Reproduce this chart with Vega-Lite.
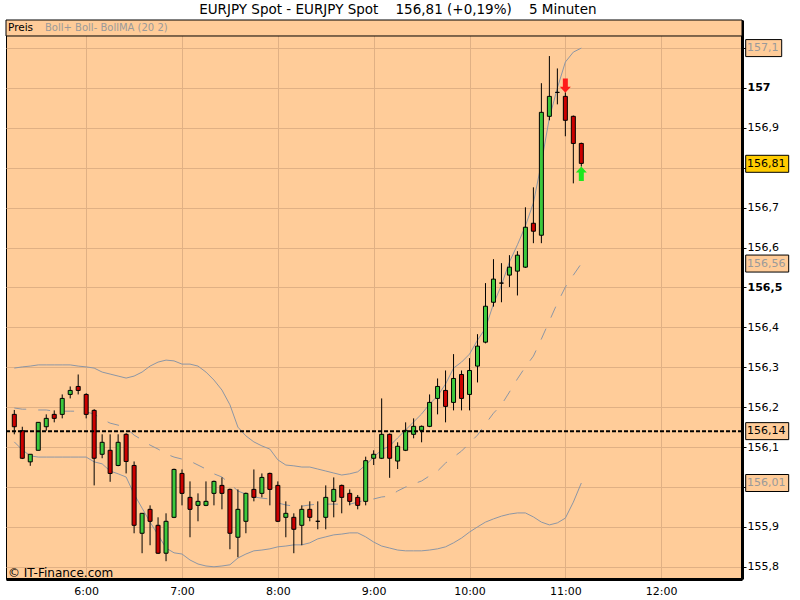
{
  "$schema": "https://vega.github.io/schema/vega-lite/v6.json",
  "width": 736,
  "height": 559,
  "autosize": {"type": "none"},
  "padding": {"left": 6, "top": 20, "right": 58, "bottom": 21},
  "background": "white",
  "title": {
    "text": "EURJPY Spot - EURJPY Spot \u00a0\u00a0\u00a0156,81 (+0,19%) \u00a0\u00a0\u00a05 Minuten",
    "font": "DejaVu Sans",
    "fontSize": 13.5,
    "fontWeight": "normal",
    "color": "black",
    "anchor": "middle",
    "frame": "bounds",
    "offset": 3
  },
  "config": {
    "view": {"fill": "#FFCC99", "stroke": "black", "strokeWidth": 1},
    "font": "DejaVu Sans",
    "axis": {"labelFont": "DejaVu Sans", "labelFontSize": 11, "labelColor": "black", "gridColor": "#E0B084", "gridOpacity": 1, "gridWidth": 1, "title": null}
  },
  "layer": [
    {
      "data": {
        "values": [
          {"t":"05:15","o":156.182,"h":156.193,"l":156.132,"c":156.151,"up":156.298,"mid":156.198,"lo":156.113},
          {"t":"05:20","o":156.141,"h":156.151,"l":156.070,"c":156.072,"up":156.301,"mid":156.195,"lo":156.093},
          {"t":"05:25","o":156.063,"h":156.082,"l":156.053,"c":156.082,"up":156.303,"mid":156.195,"lo":156.078},
          {"t":"05:30","o":156.092,"h":156.162,"l":156.092,"c":156.162,"up":156.306,"mid":156.193,"lo":156.075},
          {"t":"05:35","o":156.151,"h":156.182,"l":156.141,"c":156.172,"up":156.306,"mid":156.193,"lo":156.075},
          {"t":"05:40","o":156.182,"h":156.192,"l":156.162,"c":156.172,"up":156.306,"mid":156.190,"lo":156.075},
          {"t":"05:45","o":156.182,"h":156.232,"l":156.172,"c":156.222,"up":156.306,"mid":156.190,"lo":156.075},
          {"t":"05:50","o":156.232,"h":156.252,"l":156.222,"c":156.242,"up":156.306,"mid":156.190,"lo":156.075},
          {"t":"05:55","o":156.252,"h":156.282,"l":156.232,"c":156.242,"up":156.303,"mid":156.190,"lo":156.075},
          {"t":"06:00","o":156.232,"h":156.235,"l":156.172,"c":156.182,"up":156.301,"mid":156.188,"lo":156.075},
          {"t":"06:05","o":156.192,"h":156.195,"l":156.004,"c":156.072,"up":156.298,"mid":156.183,"lo":156.063},
          {"t":"06:10","o":156.082,"h":156.132,"l":156.072,"c":156.112,"up":156.288,"mid":156.170,"lo":156.058},
          {"t":"06:15","o":156.092,"h":156.132,"l":156.013,"c":156.034,"up":156.283,"mid":156.160,"lo":156.040},
          {"t":"06:20","o":156.054,"h":156.132,"l":156.052,"c":156.112,"up":156.278,"mid":156.155,"lo":156.033},
          {"t":"06:25","o":156.132,"h":156.135,"l":156.034,"c":156.064,"up":156.273,"mid":156.148,"lo":156.025},
          {"t":"06:30","o":156.054,"h":156.064,"l":155.884,"c":155.904,"up":156.278,"mid":156.130,"lo":155.982},
          {"t":"06:35","o":155.884,"h":155.934,"l":155.834,"c":155.934,"up":156.288,"mid":156.118,"lo":155.947},
          {"t":"06:40","o":155.944,"h":155.954,"l":155.854,"c":155.914,"up":156.303,"mid":156.105,"lo":155.912},
          {"t":"06:45","o":155.904,"h":155.924,"l":155.832,"c":155.834,"up":156.313,"mid":156.095,"lo":155.880},
          {"t":"06:50","o":155.834,"h":155.934,"l":155.814,"c":155.914,"up":156.318,"mid":156.083,"lo":155.847},
          {"t":"06:55","o":155.924,"h":156.046,"l":155.922,"c":156.044,"up":156.316,"mid":156.075,"lo":155.835},
          {"t":"07:00","o":156.034,"h":156.044,"l":155.954,"c":155.984,"up":156.308,"mid":156.070,"lo":155.832},
          {"t":"07:05","o":155.974,"h":156.014,"l":155.874,"c":155.944,"up":156.308,"mid":156.065,"lo":155.817},
          {"t":"07:10","o":155.954,"h":155.984,"l":155.914,"c":155.964,"up":156.303,"mid":156.055,"lo":155.807},
          {"t":"07:15","o":155.954,"h":156.014,"l":155.952,"c":155.964,"up":156.288,"mid":156.045,"lo":155.802},
          {"t":"07:20","o":155.984,"h":156.016,"l":155.954,"c":156.014,"up":156.268,"mid":156.033,"lo":155.800},
          {"t":"07:25","o":156.004,"h":156.024,"l":155.944,"c":155.984,"up":156.243,"mid":156.025,"lo":155.802},
          {"t":"07:30","o":155.994,"h":155.996,"l":155.844,"c":155.884,"up":156.206,"mid":156.008,"lo":155.805},
          {"t":"07:35","o":155.874,"h":155.994,"l":155.824,"c":155.944,"up":156.150,"mid":155.990,"lo":155.822},
          {"t":"07:40","o":155.914,"h":155.986,"l":155.884,"c":155.984,"up":156.128,"mid":155.982,"lo":155.832},
          {"t":"07:45","o":155.994,"h":156.044,"l":155.964,"c":155.974,"up":156.113,"mid":155.975,"lo":155.840},
          {"t":"07:50","o":155.984,"h":156.034,"l":155.974,"c":156.024,"up":156.103,"mid":155.972,"lo":155.842},
          {"t":"07:55","o":156.034,"h":156.036,"l":155.954,"c":155.994,"up":156.095,"mid":155.970,"lo":155.845},
          {"t":"08:00","o":156.004,"h":156.014,"l":155.912,"c":155.914,"up":156.068,"mid":155.960,"lo":155.850},
          {"t":"08:05","o":155.924,"h":155.964,"l":155.874,"c":155.934,"up":156.055,"mid":155.955,"lo":155.852},
          {"t":"08:10","o":155.924,"h":155.934,"l":155.834,"c":155.894,"up":156.053,"mid":155.952,"lo":155.855},
          {"t":"08:15","o":155.904,"h":155.954,"l":155.854,"c":155.944,"up":156.050,"mid":155.952,"lo":155.855},
          {"t":"08:20","o":155.944,"h":155.964,"l":155.914,"c":155.924,"up":156.050,"mid":155.955,"lo":155.860},
          {"t":"08:25","o":155.914,"h":155.964,"l":155.894,"c":155.914,"up":156.045,"mid":155.957,"lo":155.870},
          {"t":"08:30","o":155.924,"h":156.004,"l":155.894,"c":155.974,"up":156.040,"mid":155.957,"lo":155.875},
          {"t":"08:35","o":155.964,"h":156.024,"l":155.924,"c":155.994,"up":156.035,"mid":155.957,"lo":155.880},
          {"t":"08:40","o":156.004,"h":156.006,"l":155.934,"c":155.974,"up":156.030,"mid":155.957,"lo":155.882},
          {"t":"08:45","o":155.984,"h":155.994,"l":155.954,"c":155.964,"up":156.033,"mid":155.957,"lo":155.885},
          {"t":"08:50","o":155.974,"h":155.980,"l":155.944,"c":155.954,"up":156.038,"mid":155.962,"lo":155.885},
          {"t":"08:55","o":155.964,"h":156.076,"l":155.954,"c":156.066,"up":156.055,"mid":155.967,"lo":155.875},
          {"t":"09:00","o":156.072,"h":156.092,"l":156.055,"c":156.082,"up":156.075,"mid":155.970,"lo":155.862},
          {"t":"09:05","o":156.072,"h":156.222,"l":156.070,"c":156.132,"up":156.093,"mid":155.975,"lo":155.852},
          {"t":"09:10","o":156.132,"h":156.134,"l":156.023,"c":156.072,"up":156.103,"mid":155.977,"lo":155.847},
          {"t":"09:15","o":156.065,"h":156.112,"l":156.045,"c":156.102,"up":156.123,"mid":155.990,"lo":155.842},
          {"t":"09:20","o":156.092,"h":156.162,"l":156.090,"c":156.142,"up":156.143,"mid":156.000,"lo":155.840},
          {"t":"09:25","o":156.132,"h":156.172,"l":156.122,"c":156.152,"up":156.163,"mid":156.008,"lo":155.840},
          {"t":"09:30","o":156.142,"h":156.154,"l":156.112,"c":156.152,"up":156.183,"mid":156.015,"lo":155.840},
          {"t":"09:35","o":156.152,"h":156.232,"l":156.150,"c":156.212,"up":156.208,"mid":156.028,"lo":155.842},
          {"t":"09:40","o":156.222,"h":156.272,"l":156.182,"c":156.252,"up":156.228,"mid":156.040,"lo":155.845},
          {"t":"09:45","o":156.242,"h":156.292,"l":156.162,"c":156.202,"up":156.258,"mid":156.060,"lo":155.850},
          {"t":"09:50","o":156.212,"h":156.333,"l":156.192,"c":156.272,"up":156.298,"mid":156.075,"lo":155.860},
          {"t":"09:55","o":156.282,"h":156.292,"l":156.192,"c":156.222,"up":156.313,"mid":156.090,"lo":155.872},
          {"t":"10:00","o":156.232,"h":156.323,"l":156.192,"c":156.292,"up":156.333,"mid":156.110,"lo":155.887},
          {"t":"10:05","o":156.303,"h":156.383,"l":156.262,"c":156.353,"up":156.368,"mid":156.130,"lo":155.900},
          {"t":"10:10","o":156.363,"h":156.511,"l":156.360,"c":156.453,"up":156.398,"mid":156.158,"lo":155.912},
          {"t":"10:15","o":156.463,"h":156.571,"l":156.452,"c":156.521,"up":156.459,"mid":156.185,"lo":155.920},
          {"t":"10:20","o":156.511,"h":156.561,"l":156.463,"c":156.511,"up":156.506,"mid":156.206,"lo":155.927},
          {"t":"10:25","o":156.531,"h":156.581,"l":156.501,"c":156.551,"up":156.564,"mid":156.238,"lo":155.932},
          {"t":"10:30","o":156.541,"h":156.591,"l":156.480,"c":156.581,"up":156.607,"mid":156.271,"lo":155.935},
          {"t":"10:35","o":156.551,"h":156.701,"l":156.549,"c":156.651,"up":156.654,"mid":156.301,"lo":155.935},
          {"t":"10:40","o":156.661,"h":156.751,"l":156.611,"c":156.641,"up":156.712,"mid":156.328,"lo":155.925},
          {"t":"10:45","o":156.631,"h":157.012,"l":156.611,"c":156.939,"up":156.812,"mid":156.371,"lo":155.912},
          {"t":"10:50","o":156.929,"h":157.080,"l":156.919,"c":156.979,"up":156.925,"mid":156.416,"lo":155.905},
          {"t":"10:55","o":156.989,"h":157.049,"l":156.959,"c":156.989,"up":157.000,"mid":156.461,"lo":155.910},
          {"t":"11:00","o":156.979,"h":156.989,"l":156.879,"c":156.919,"up":157.065,"mid":156.501,"lo":155.922},
          {"t":"11:05","o":156.929,"h":156.931,"l":156.761,"c":156.861,"up":157.090,"mid":156.531,"lo":155.962},
          {"t":"11:10","o":156.861,"h":156.863,"l":156.803,"c":156.811,"up":157.100,"mid":156.560,"lo":156.010}
        ],
        "format": {"parse": {"t": "date:'%H:%M'"}}
      },
      "encoding": {
        "x": {
          "field": "t",
          "type": "temporal",
          "scale": {"domain": [{"year":1900,"month":1,"date":1,"hours":5,"minutes":9,"seconds":48},{"year":1900,"month":1,"date":1,"hours":12,"minutes":50,"seconds":36}], "nice": false, "padding": 0},
          "axis": {
            "orient": "bottom",
            "values": [{"year":1900,"month":1,"date":1,"hours":6},{"year":1900,"month":1,"date":1,"hours":7},{"year":1900,"month":1,"date":1,"hours":8},{"year":1900,"month":1,"date":1,"hours":9},{"year":1900,"month":1,"date":1,"hours":10},{"year":1900,"month":1,"date":1,"hours":11},{"year":1900,"month":1,"date":1,"hours":12}],
            "format": "%-H:%M",
            "formatType": "time",
            "grid": true,
            "ticks": false,
            "domain": true,
            "domainColor": "black",
            "domainWidth": 3,
            "labelPadding": 6,
            "labelOverlap": false,
            "labelFlush": false
          }
        }
      },
      "layer": [
        {
          "mark": {"type": "line", "color": "#8C96A5", "strokeWidth": 1},
          "encoding": {"y": {"field": "up", "type": "quantitative", "scale": {"domain": [155.7694, 157.1704], "nice": false, "zero": false, "padding": 0},
            "axis": {
              "orient": "right",
              "values": [155.8, 155.9, 156, 156.1, 156.2, 156.3, 156.4, 156.5, 156.6, 156.7, 156.8, 156.9, 157, 157.1],
              "labelExpr": "datum.value > 157.05 || (datum.value > 156.75 && datum.value < 156.85) ? '' : replace(format(datum.value, '.1~f'), '.', ',')",
              "labelFontWeight": {"condition": {"test": "abs(datum.value*2 - round(datum.value*2)) < 0.001", "value": "bold"}, "value": "normal"},
              "grid": true,
              "ticks": true,
              "tickSize": 4,
              "tickColor": "black",
              "domain": true,
              "domainColor": "black",
              "domainWidth": 3,
              "labelPadding": 1,
              "labelOverlap": false,
              "labelFlush": false
            }}}
        },
        {
          "mark": {"type": "line", "color": "#8C96A5", "strokeWidth": 1},
          "encoding": {"y": {"field": "lo", "type": "quantitative", "scale": {"domain": [155.7694, 157.1704], "nice": false, "zero": false}}}
        },
        {
          "mark": {"type": "line", "color": "#8C96A5", "strokeWidth": 1, "strokeDash": [12, 12]},
          "encoding": {"y": {"field": "mid", "type": "quantitative", "scale": {"domain": [155.7694, 157.1704], "nice": false, "zero": false}}}
        },
        {
          "mark": {"type": "rule", "color": "black", "strokeWidth": 1},
          "encoding": {
            "y": {"field": "l", "type": "quantitative", "scale": {"domain": [155.7694, 157.1704], "nice": false, "zero": false}},
            "y2": {"field": "h"}
          }
        },
        {
          "mark": {"type": "bar", "width": 4, "stroke": "black", "strokeWidth": 1},
          "encoding": {
            "y": {"field": "o", "type": "quantitative", "scale": {"domain": [155.7694, 157.1704], "nice": false, "zero": false}},
            "y2": {"field": "c"},
            "fill": {"condition": {"test": "datum.c >= datum.o", "value": "#3CC83C"}, "value": "#CC0000"}
          }
        }
      ]
    },
    {
      "data": {"values": [{"level": 156.14}]},
      "mark": {"type": "rule", "color": "black", "strokeWidth": 2, "strokeDash": [4, 2]},
      "encoding": {"y": {"field": "level", "type": "quantitative", "scale": {"domain": [155.7694, 157.1704], "nice": false, "zero": false}}}
    },
    {
      "data": {"values": [{"top": 157.1704, "bottom": 157.1303}]},
      "mark": {"type": "rect", "fill": "#FFCC99", "stroke": "black", "strokeWidth": 1},
      "encoding": {
        "y": {"field": "bottom", "type": "quantitative", "scale": {"domain": [155.7694, 157.1704], "nice": false, "zero": false}},
        "y2": {"field": "top"}
      }
    },
    {
      "data": {"values": [{"label": "Preis", "p": 157.1504}]},
      "mark": {"type": "text", "align": "left", "baseline": "middle", "dx": 2, "fontSize": 10.5, "color": "black"},
      "encoding": {
        "x": {"datum": {"year":1900,"month":1,"date":1,"hours":5,"minutes":9,"seconds":48}, "type": "temporal"},
        "y": {"field": "p", "type": "quantitative", "scale": {"domain": [155.7694, 157.1704], "nice": false, "zero": false}},
        "text": {"field": "label"}
      }
    },
    {
      "data": {"values": [{"label": "Boll+ Boll- BollMA (20 2)", "p": 157.1504}]},
      "mark": {"type": "text", "align": "left", "baseline": "middle", "dx": 39, "fontSize": 10, "color": "#9A9A9A"},
      "encoding": {
        "x": {"datum": {"year":1900,"month":1,"date":1,"hours":5,"minutes":9,"seconds":48}, "type": "temporal"},
        "y": {"field": "p", "type": "quantitative", "scale": {"domain": [155.7694, 157.1704], "nice": false, "zero": false}},
        "text": {"field": "label"}
      }
    },
    {
      "data": {"values": [{"label": "\u00a9 IT-Finance.com", "p": 155.7845}]},
      "mark": {"type": "text", "align": "left", "baseline": "middle", "dx": 2, "fontSize": 12, "color": "black"},
      "encoding": {
        "x": {"datum": {"year":1900,"month":1,"date":1,"hours":5,"minutes":9,"seconds":48}, "type": "temporal"},
        "y": {"field": "p", "type": "quantitative", "scale": {"domain": [155.7694, 157.1704], "nice": false, "zero": false}},
        "text": {"field": "label"}
      }
    },
    {
      "data": {
        "values": [
          {"t": "11:00", "p": 157.006, "dir": "down"},
          {"t": "11:10", "p": 156.785, "dir": "up"}
        ],
        "format": {"parse": {"t": "date:'%H:%M'"}}
      },
      "mark": {"type": "point", "filled": true, "size": 100, "opacity": 1, "strokeWidth": 0},
      "encoding": {
        "x": {"field": "t", "type": "temporal"},
        "y": {"field": "p", "type": "quantitative", "scale": {"domain": [155.7694, 157.1704], "nice": false, "zero": false}},
        "shape": {"condition": {"test": "datum.dir == 'down'", "value": "M-0.5,-1.44L0.5,-1.44L0.5,0.24L1.1,0.24L0,1.44L-1.1,0.24L-0.5,0.24Z"}, "value": "M-0.5,1.44L0.5,1.44L0.5,-0.24L1.1,-0.24L0,-1.44L-1.1,-0.24L-0.5,-0.24Z"},
        "fill": {"condition": {"test": "datum.dir == 'down'", "value": "#FF1A1A"}, "value": "#1EE61E"}
      }
    },
    {
      "data": {
        "values": [
          {"v": 157.1, "label": "157,1", "kind": "band"},
          {"v": 156.81, "label": "156,81", "kind": "last"},
          {"v": 156.56, "label": "156,56", "kind": "band"},
          {"v": 156.14, "label": "156,14", "kind": "ref"},
          {"v": 156.01, "label": "156,01", "kind": "band"}
        ]
      },
      "layer": [
        {
          "mark": {"type": "point", "filled": true, "size": 400, "opacity": 1, "stroke": "black", "strokeWidth": 1},
          "encoding": {
            "x": {"value": "width"},
            "y": {"field": "v", "type": "quantitative", "scale": {"domain": [155.7694, 157.1704], "nice": false, "zero": false}},
            "shape": {"condition": {"test": "datum.label == '157,1'", "value": "M0.37,-0.85L3.97,-0.85L3.97,0.85L0.37,0.85Z"}, "value": "M0.37,-0.85L4.67,-0.85L4.67,0.85L0.37,0.85Z"},
            "fill": {"condition": {"test": "datum.kind == 'last'", "value": "#FFCC00"}, "value": "#FFCC99"}
          }
        },
        {
          "mark": {"type": "text", "align": "left", "baseline": "middle", "dx": 5, "fontSize": 11},
          "encoding": {
            "x": {"value": "width"},
            "y": {"field": "v", "type": "quantitative", "scale": {"domain": [155.7694, 157.1704], "nice": false, "zero": false}},
            "text": {"field": "label"},
            "color": {"condition": {"test": "datum.kind == 'band'", "value": "#9A9A9A"}, "value": "black"}
          }
        }
      ]
    }
  ]
}
